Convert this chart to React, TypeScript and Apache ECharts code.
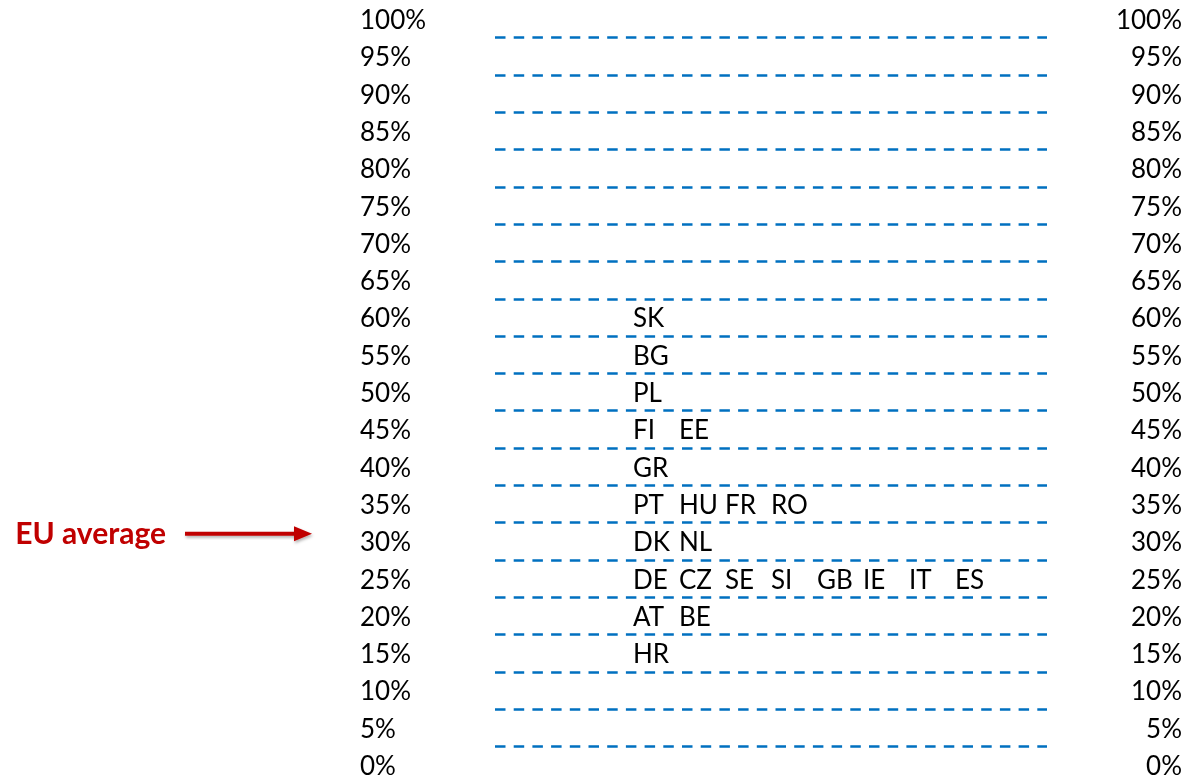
import React, { useEffect, useRef } from "react";
import * as echarts from "echarts";

// Tick values of the percentage scale (shown on both sides)
const tickValues = [0, 5, 10, 15, 20, 25, 30, 35, 40, 45, 50, 55, 60, 65, 70, 75, 80, 85, 90, 95, 100];

// Countries and the percentage band each falls in
const countries = ["SK", "BG", "PL", "FI", "EE", "GR", "PT", "HU", "FR", "RO", "DK", "NL",
  "DE", "CZ", "SE", "SI", "GB", "IE", "IT", "ES", "AT", "BE", "HR"];
const shares = [60, 55, 50, 45, 45, 40, 35, 35, 35, 35, 30, 30,
  25, 25, 25, 25, 25, 25, 25, 25, 20, 20, 15];

const euAverage = 31;
const euLabel = "EU average";

const FONT = "Lato, 'Open Sans', sans-serif";
const BLUE = "#0070C0";
const RED = "#C00000";

export default function App() {
  const ref = useRef<HTMLDivElement>(null);

  useEffect(() => {
    if (!ref.current) return;
    const chart = echarts.init(ref.current, null, { renderer: "svg" });

    const rowCount: Record<number, number> = {};
    const points = countries.map((c, i) => {
      const v = shares[i];
      const col = rowCount[v] ?? 0;
      rowCount[v] = col + 1;
      return { name: c, value: [col, v] };
    });

    const gridLines = tickValues.slice(0, -1).map((t, i) => (t + tickValues[i + 1]) / 2);

    const yAxisBase = {
      type: "value",
      min: 0,
      max: 100,
      interval: 5,
      axisLine: { show: false },
      axisTick: { show: false },
      splitLine: { show: false },
    };

    chart.setOption({
      animation: false,
      grid: { left: 495, right: 139, top: 19, bottom: 17, containLabel: false },
      xAxis: { type: "value", min: -3, max: 9, show: false },
      yAxis: [
        {
          ...yAxisBase,
          position: "left",
          axisLabel: {
            formatter: "{value}%",
            align: "left",
            margin: 135,
            fontFamily: FONT,
            fontSize: 26,
            lineHeight: 22,
            color: "#000",
          },
        },
        {
          ...yAxisBase,
          position: "right",
          axisLabel: {
            formatter: "{value}%",
            align: "right",
            margin: 135,
            fontFamily: FONT,
            fontSize: 26,
            lineHeight: 22,
            color: "#000",
          },
        },
      ],
      series: [
        {
          type: "scatter",
          xAxisIndex: 0,
          yAxisIndex: 0,
          symbolSize: 0,
          silent: true,
          itemStyle: { opacity: 1, color: "#000" },
          data: points,
          label: {
            show: true,
            position: "right",
            distance: 0,
            formatter: "{b}",
            fontFamily: FONT,
            fontSize: 26,
            color: "#000",
            opacity: 1,
          },
          markLine: {
            silent: true,
            symbol: ["none", "none"],
            label: { show: false },
            lineStyle: { type: [10.5, 8.2], color: BLUE, width: 2.6, opacity: 1 },
            emphasis: { disabled: true },
            data: gridLines.map((y) => ({ yAxis: y })),
          },
        },
      ],
    });

    const yPix = chart.convertToPixel({ yAxisIndex: 0 }, euAverage) as number;

    chart.setOption({
      graphic: [
        {
          type: "text",
          style: {
            text: euLabel,
            x: 166,
            y: yPix - 2,
            align: "right",
            textAlign: "right",
            verticalAlign: "middle",
            textVerticalAlign: "middle",
            fontFamily: FONT,
            fontSize: 30,
            fontWeight: "bold",
            fill: RED,
          },
        },
        {
          type: "rect",
          shape: { x: 185, y: yPix - 2, width: 112, height: 4 },
          style: {
            fill: RED,
            shadowBlur: 3,
            shadowColor: "rgba(0,0,0,0.3)",
            shadowOffsetX: 1,
            shadowOffsetY: 2,
          },
        },
        {
          type: "polygon",
          shape: { points: [[294, yPix - 7.5], [312, yPix], [294, yPix + 7.5]] },
          style: {
            fill: RED,
            shadowBlur: 3,
            shadowColor: "rgba(0,0,0,0.3)",
            shadowOffsetX: 1,
            shadowOffsetY: 2,
          },
        },
      ],
    });

    return () => chart.dispose();
  }, []);

  return (
    <div
      ref={ref}
      style={{ position: "fixed", left: 0, top: 0, width: 1186, height: 782 }}
    />
  );
}
